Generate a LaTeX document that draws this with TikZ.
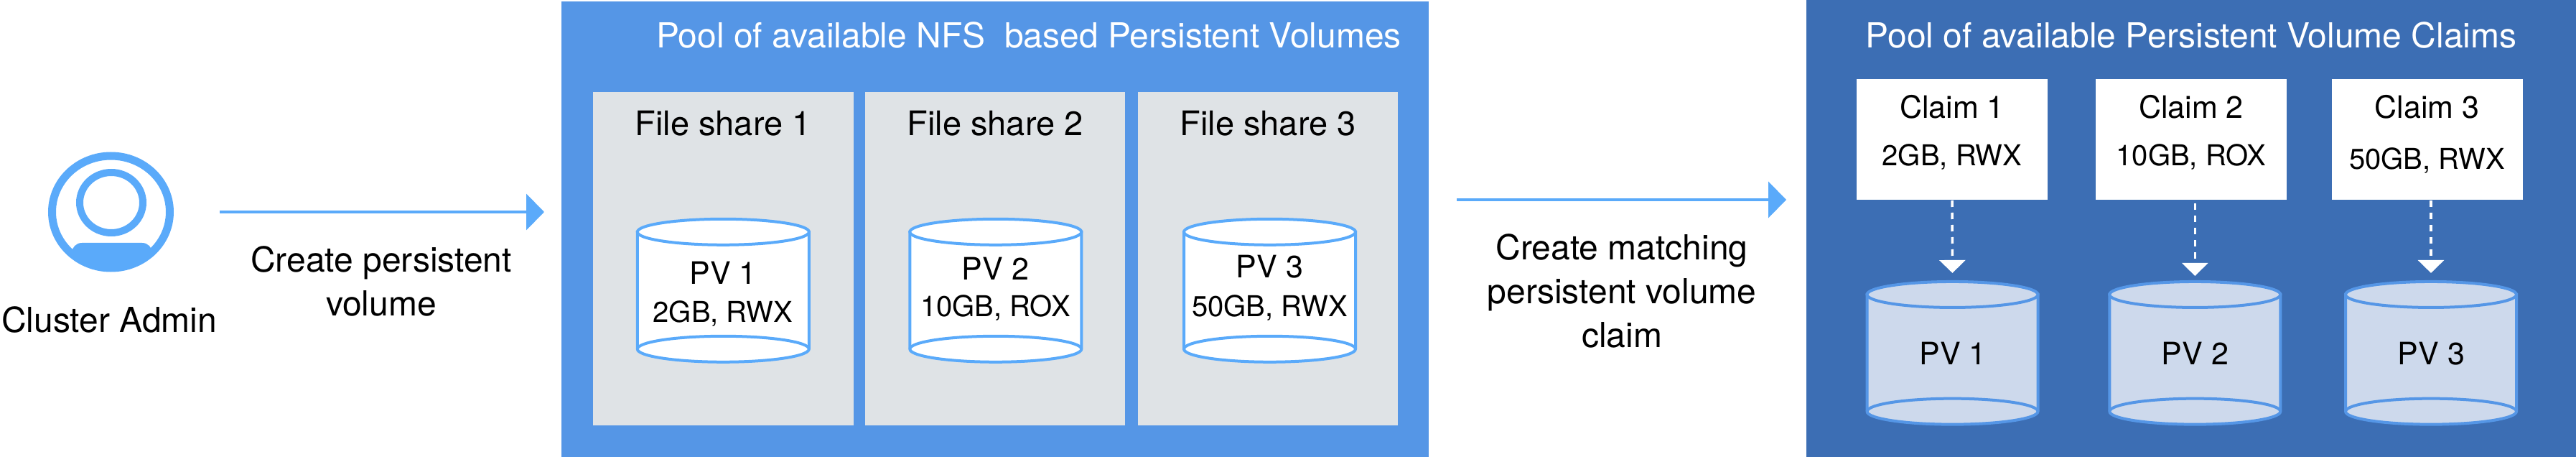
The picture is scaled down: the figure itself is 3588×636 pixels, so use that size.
\documentclass[tikz,border=0pt]{standalone}
\usepackage{fontspec}
\setmainfont{TeX Gyre Heros}
\usetikzlibrary{shapes.geometric,arrows.meta}
\definecolor{poolblue}{HTML}{5596E6}
\definecolor{pooldark}{HTML}{3C6EB4}
\definecolor{sharegrey}{HTML}{DFE3E6}
\definecolor{linkblue}{HTML}{5AAAFA}
\definecolor{pvfill}{HTML}{CDD9EC}
\tikzset{
  panel/.style={rectangle, outer sep=0pt, inner sep=0pt},
  bigtext/.style={font=\fontsize{48}{61}\selectfont, align=center, inner sep=0pt},
  midtext/.style={font=\fontsize{47}{60}\selectfont, align=center, inner sep=0pt},
  nametext/.style={font=\fontsize{43}{50}\selectfont, align=center, inner sep=0pt},
  sizetext/.style={font=\fontsize{40}{50}\selectfont, align=center, inner sep=0pt},
  pvlight/.style={draw=linkblue, line width=4pt, fill=white},
  pvdark/.style={draw=poolblue, line width=4pt, fill=pvfill},
  flow/.style={draw=linkblue, line width=4.5pt, -{Triangle[length=25pt,width=50pt,fill=linkblue]}},
  bind/.style={draw=white, line width=3.5pt, dash pattern=on 9pt off 8pt, -{Triangle[length=18pt,width=36pt,fill=white]}}
}
% name, position, style, half width, height
\newcommand{\pvdrum}[5]{
  \node[panel, minimum width=2*#4pt, minimum height=#5pt] (#1) at (#2) {};
  \filldraw[#3] ([shift={(-#4,-18)}]#1.north) -- ([shift={(-#4,18)}]#1.south)
    arc[start angle=180,end angle=360,x radius=#4,y radius=18] -- ([shift={(#4,-18)}]#1.north) -- cycle;
  \draw[#3] ([shift={(0,-18)}]#1.north) ellipse [x radius=#4, y radius=18];
  \draw[#3, fill=none] ([shift={(-#4,18)}]#1.south) arc[start angle=180,end angle=0,x radius=#4,y radius=18];
}
\begin{document}
\begin{tikzpicture}[x=1pt,y=1pt]
\useasboundingbox (0,0) rectangle (3588,-636);
% pools
\node[panel, fill=poolblue, minimum width=1208pt, minimum height=634pt] (nfspool) at (1386,-319) {};
\node[panel, fill=pooldark, minimum width=1072pt, minimum height=636pt] (pvcpool) at (3052,-318) {};
\node[bigtext, text=white] (nfstitle) at (1433,-49) {Pool of available NFS\ \ based Persistent Volumes};
\node[bigtext, text=white] (pvctitle) at (3052,-49) {Pool of available Persistent Volume Claims};
% admin
\node[ellipse, draw=linkblue, line width=11pt, outer sep=0pt, inner sep=0pt, minimum width=164pt, minimum height=156pt] (admin) at (154.5,-295) {};
\node[ellipse, draw=linkblue, line width=10pt, outer sep=0pt, inner sep=0pt, minimum width=88pt, minimum height=84pt] (adminhead) at (155,-282) {};
\begin{scope}
\clip (154.5,-295) ellipse [x radius=84pt, y radius=80pt];
\fill[linkblue, rounded corners=14pt] (100,-338) rectangle (212,-400);
\end{scope}
\node[bigtext] (adminlabel) at (152,-445) {Cluster Admin};
\node[bigtext] (pvlabel) at (531,-391) {Create persistent\\volume};
\node[bigtext] (pvclabel) at (2259,-405) {Create matching\\persistent volume\\claim};
% file shares
\node[panel, fill=sharegrey, minimum width=363pt, minimum height=463pt] (shareA) at (1007,-360) {};
\node[panel, fill=sharegrey, minimum width=362pt, minimum height=463pt] (shareB) at (1386,-360) {};
\node[panel, fill=sharegrey, minimum width=362pt, minimum height=463pt] (shareC) at (1766,-360) {};
\node[midtext] (shareAlabel) at (1007,-172) {File share 1};
\node[midtext] (shareBlabel) at (1386,-172) {File share 2};
\node[midtext] (shareClabel) at (1766,-172) {File share 3};
\pvdrum{nfsA}{1007.3,-404.3}{pvlight}{119.5}{199}
\pvdrum{nfsB}{1386.8,-404.3}{pvlight}{119.5}{199}
\pvdrum{nfsC}{1768.5,-404.3}{pvlight}{119.5}{199}
\node[nametext] (nfsAname) at (1007,-380) {PV 1};
\node[sizetext] (nfsAsize) at (1007,-436) {2GB, RWX};
\node[nametext] (nfsBname) at (1386.5,-374) {PV 2};
\node[sizetext] (nfsBsize) at (1386.5,-428) {10GB, ROX};
\node[nametext] (nfsCname) at (1768.5,-371) {PV 3};
\node[sizetext] (nfsCsize) at (1768.5,-428) {50GB, RWX};
% claims
\node[panel, fill=white, minimum width=266pt, minimum height=168pt] (claimA) at (2719,-194) {};
\node[panel, fill=white, minimum width=266pt, minimum height=168pt] (claimB) at (3052,-194) {};
\node[panel, fill=white, minimum width=266pt, minimum height=168pt] (claimC) at (3380.5,-194) {};
\node[nametext] (claimAname) at (2719,-149) {Claim 1};
\node[sizetext] (claimAsize) at (2719,-219) {2GB, RWX};
\node[nametext] (claimBname) at (3052,-149) {Claim 2};
\node[sizetext] (claimBsize) at (3052,-219) {10GB, ROX};
\node[nametext] (claimCname) at (3380.5,-149) {Claim 3};
\node[sizetext] (claimCsize) at (3380.5,-224) {50GB, RWX};
\pvdrum{pvcA}{2719.5,-491.3}{pvdark}{119}{198.7}
\pvdrum{pvcB}{3057.3,-491.3}{pvdark}{119}{198.7}
\pvdrum{pvcC}{3386,-491.3}{pvdark}{119}{198.7}
\node[nametext] (pvcAname) at (2720,-492) {PV 1};
\node[nametext] (pvcBname) at (3057.5,-492) {PV 2};
\node[nametext] (pvcCname) at (3386.5,-492) {PV 3};
% links
\draw[flow, shorten <=69pt, shorten >=24pt] (admin.east) -- (nfspool.west |- admin.east);
\draw[flow, shorten <=39pt, shorten >=28pt] (nfspool.east |- claimA.south) -- (pvcpool.west |- claimA.south);
\draw[bind, shorten <=1pt, shorten >=12pt] (claimA.south) -- (pvcA.north);
\draw[bind, shorten <=5pt, shorten >=8pt] (claimB.south -| pvcB.north) -- (pvcB.north);
\draw[bind, shorten <=1pt, shorten >=12pt] (claimC.south -| pvcC.north) -- (pvcC.north);
\end{tikzpicture}
\end{document}
